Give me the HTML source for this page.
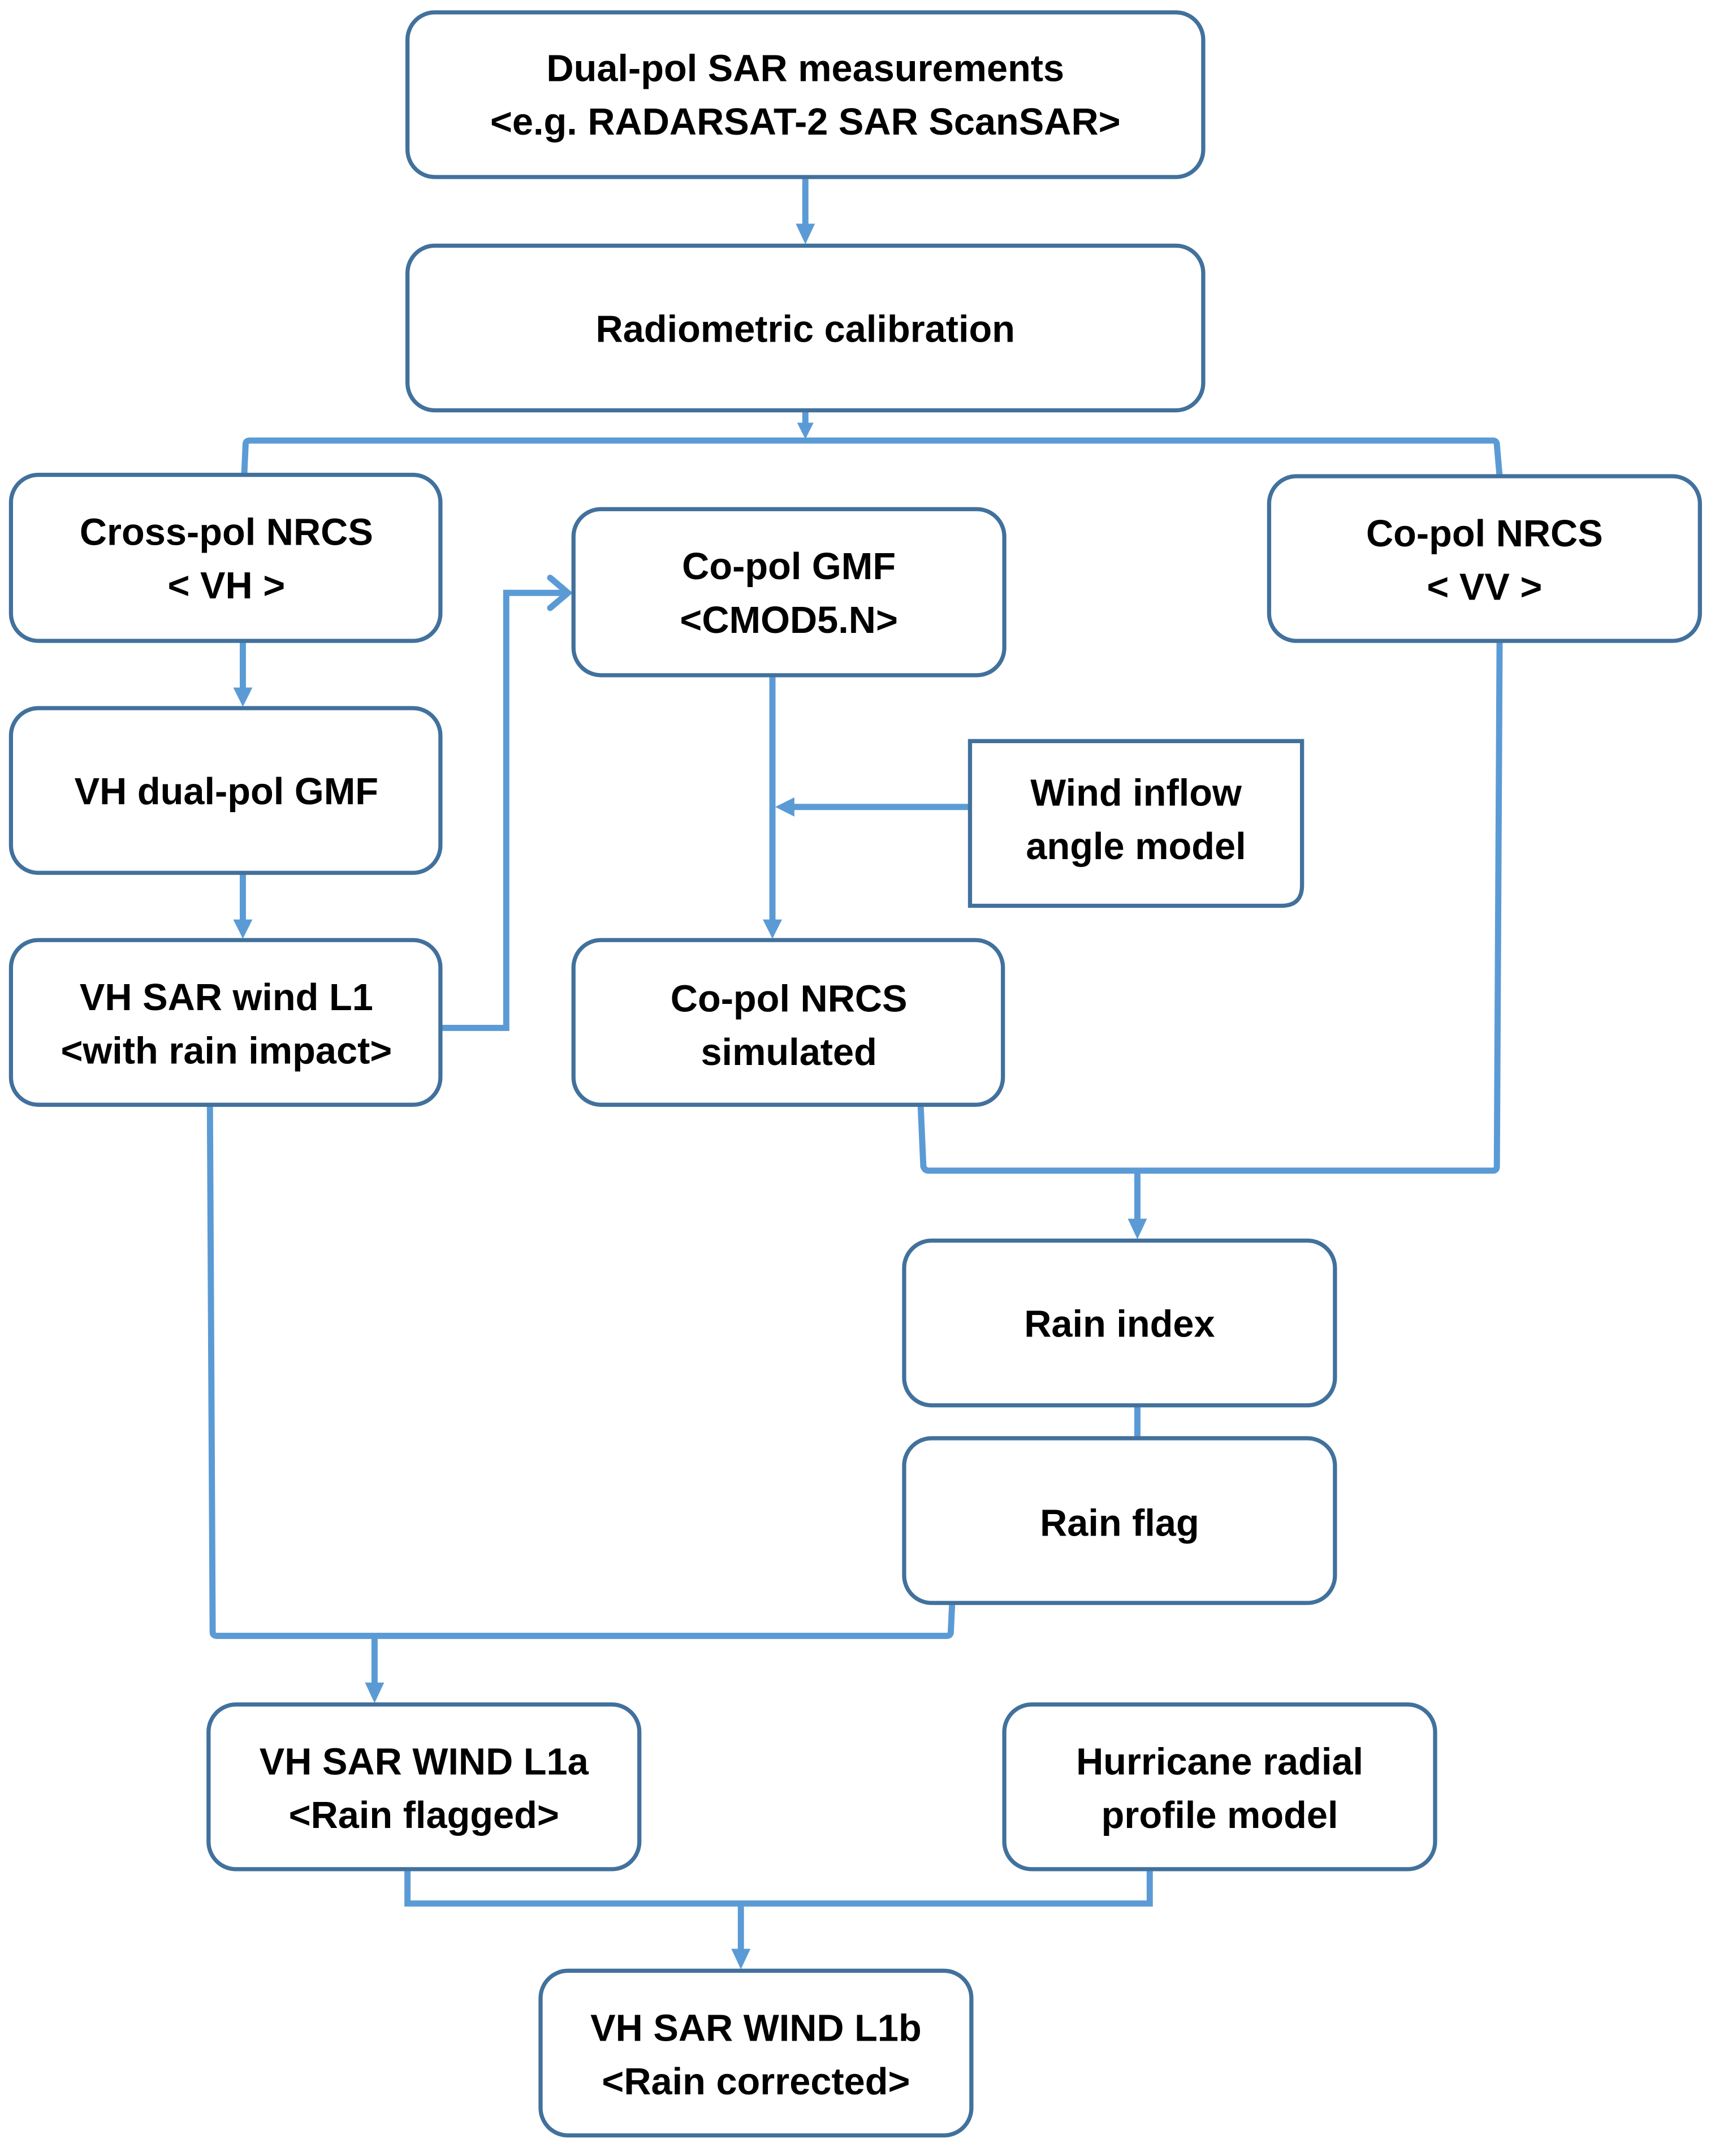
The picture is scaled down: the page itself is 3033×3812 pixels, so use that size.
<!DOCTYPE html>
<html><head><meta charset="utf-8"><style>
html,body{margin:0;padding:0;background:#fff}
svg{display:block}
text{font-family:"Liberation Sans",Arial,sans-serif;font-weight:bold;font-size:27.5px;fill:#000;text-anchor:middle;dominant-baseline:central}
.b{fill:#fff;stroke:#41719c;stroke-width:3}
.c{fill:none;stroke:#5b9bd5;stroke-width:4.5}
.a{fill:#5b9bd5}
</style></head><body>
<svg width="3033" height="3812" viewBox="0 0 1250 1571" preserveAspectRatio="none">
<path class="c" d="M587,129 V166"/><polygon class="a" points="580,163 594,163 587,178"/>
<path class="c" d="M587,299 V312"/><polygon class="a" points="581,308 593,308 587,320"/>
<path class="c" d="M178,346 L179,324 Q179,321 182,321 H1088 Q1091,321 1091,324 L1093,347"/>
<path class="c" d="M177,467 V504"/><polygon class="a" points="170,501 184,501 177,515"/>
<path class="c" d="M177,636 V673"/><polygon class="a" points="170,670 184,670 177,684"/>
<path class="c" d="M321,749 H369 V432 H413"/><path class="c" d="M401,421 L414,432 L401,443" stroke-linecap="round"/>
<path class="c" d="M563,492 V673"/><polygon class="a" points="556,670 570,670 563,684"/>
<path class="c" d="M707,588 H576"/><polygon class="a" points="579,581 579,595 565,588"/>
<path class="c" d="M671,805 L673,850 Q674,853 677,853 H1088 Q1091,853 1091,850 L1093,467"/>
<path class="c" d="M829,853 V891"/><polygon class="a" points="822,888 836,888 829,903"/>
<path class="c" d="M829,1024 V1048"/>
<path class="c" d="M153,805 L155,1189 Q155,1192 158,1192 H690 Q693,1192 693,1189 L694,1168"/>
<path class="c" d="M273,1192 V1229"/><polygon class="a" points="266,1226 280,1226 273,1241"/>
<path class="c" d="M297,1362 V1387 H838 V1362"/>
<path class="c" d="M540,1387 V1423"/><polygon class="a" points="533,1420 547,1420 540,1435"/>
<rect class="b" x="297" y="9" width="580" height="120" rx="20"/>
<text x="587" y="50">Dual-pol SAR measurements</text><text x="587" y="89">&lt;e.g. RADARSAT-2 SAR ScanSAR&gt;</text>
<rect class="b" x="297" y="179" width="580" height="120" rx="20"/>
<text x="587" y="240">Radiometric calibration</text>
<rect class="b" x="8" y="346" width="313" height="121" rx="20"/>
<text x="165" y="388">Cross-pol NRCS</text><text x="165" y="427">&lt; VH &gt;</text>
<rect class="b" x="418" y="371" width="314" height="121" rx="20"/>
<text x="575" y="413">Co-pol GMF</text><text x="575" y="452">&lt;CMOD5.N&gt;</text>
<rect class="b" x="925" y="347" width="314" height="120" rx="20"/>
<text x="1082" y="389">Co-pol NRCS</text><text x="1082" y="428">&lt; VV &gt;</text>
<rect class="b" x="8" y="516" width="313" height="120" rx="20"/>
<text x="165" y="577">VH dual-pol GMF</text>
<path class="b" d="M707,540 H949 V645 Q949,660 934,660 H707 Z"/>
<text x="828" y="578">Wind inflow</text><text x="828" y="617">angle model</text>
<rect class="b" x="8" y="685" width="313" height="120" rx="20"/>
<text x="165" y="727">VH SAR wind L1</text><text x="165" y="766">&lt;with rain impact&gt;</text>
<rect class="b" x="418" y="685" width="313" height="120" rx="20"/>
<text x="575" y="728">Co-pol NRCS</text><text x="575" y="767">simulated</text>
<rect class="b" x="659" y="904" width="314" height="120" rx="20"/>
<text x="816" y="965">Rain index</text>
<rect class="b" x="659" y="1048" width="314" height="120" rx="20"/>
<text x="816" y="1110">Rain flag</text>
<rect class="b" x="152" y="1242" width="314" height="120" rx="20"/>
<text x="309" y="1284">VH SAR WIND L1a</text><text x="309" y="1323">&lt;Rain flagged&gt;</text>
<rect class="b" x="732" y="1242" width="314" height="120" rx="20"/>
<text x="889" y="1284">Hurricane radial</text><text x="889" y="1323">profile model</text>
<rect class="b" x="394" y="1436" width="314" height="120" rx="20"/>
<text x="551" y="1478">VH SAR WIND L1b</text><text x="551" y="1517">&lt;Rain corrected&gt;</text>
</svg>
</body></html>
